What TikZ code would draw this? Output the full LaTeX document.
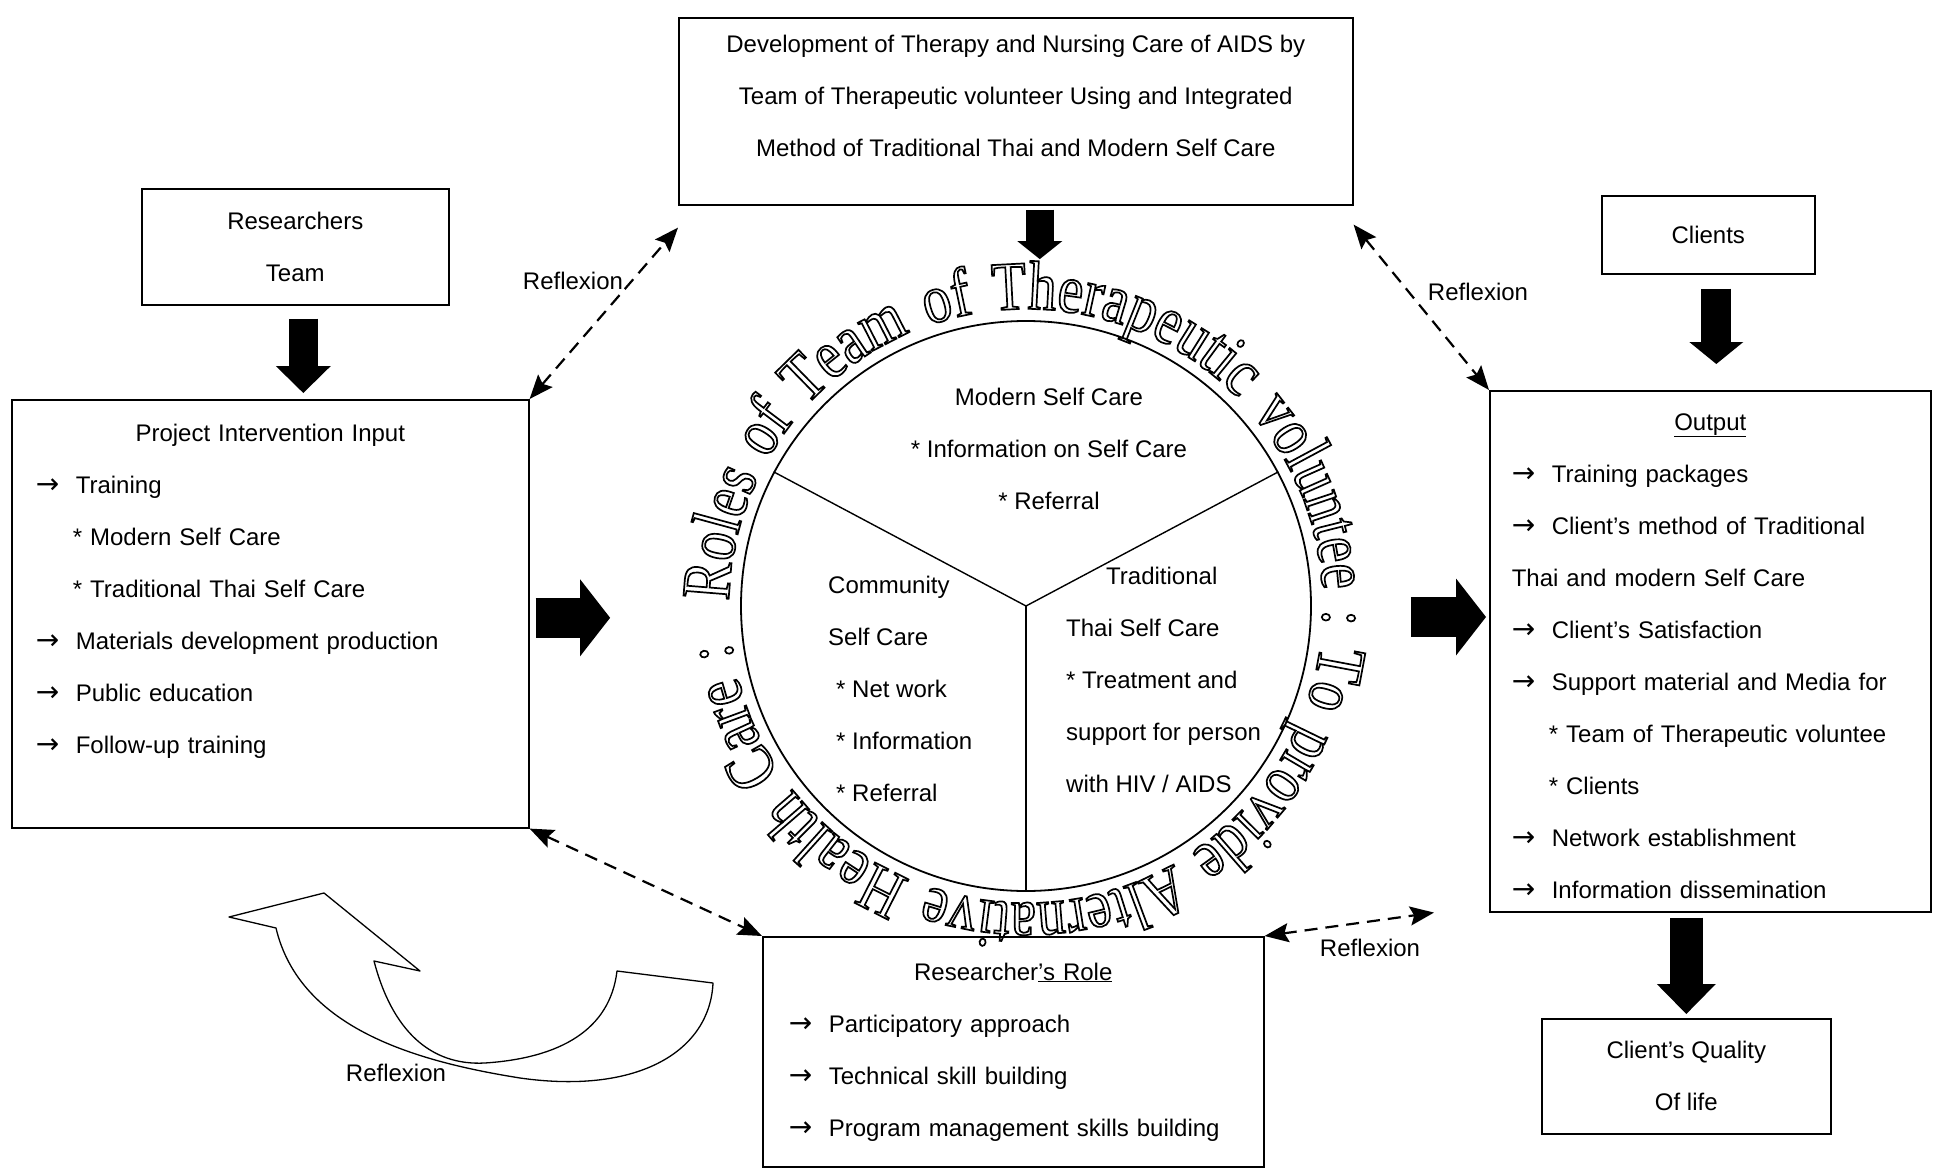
\documentclass[tikz,border=0pt]{standalone}
\usepackage{fontspec}
\setmainfont{Liberation Sans}
\newfontfamily\wordartfont[FakeStretch=0.82]{Liberation Serif}
\newfontfamily\symbfont{DejaVu Sans}
\usetikzlibrary{positioning,arrows.meta,decorations.text}

\newcommand{\itemarrow}{\makebox[40pt][l]{\symbfont\fontsize{28}{28}\selectfont →}}
\newcommand{\subbullet}{\hspace*{37pt}}
\makeatletter
\newcommand{\outlineon}{\pgfsys@invoke{q 1 Tr 1.7 w}}
\newcommand{\outlineoff}{\pgfsys@invoke{Q}}
\makeatother

\begin{document}
\begin{tikzpicture}[
    x=1pt, y=-1pt,
    txt/.style = {font=\fontsize{24}{52}\selectfont, inner sep=0pt},
    box/.style = {draw, line width=1.6pt, txt, align=center},
    listbox/.style = {box, align=left, inner xsep=#1, inner ysep=0pt},
    reflex/.style = {line width=2.2pt, dash pattern=on 13pt off 8pt,
        {Stealth[length=24pt,width=19pt,inset=4pt]}-{Stealth[length=24pt,width=19pt,inset=4pt]}},
    fat/.style n args = {3}{line width=#1, -{Triangle[width=#2,length=#3,line width=0pt]}}
]
    \useasboundingbox (0,0) rectangle (1939,1169);

    % Définition des boîtes (Boxes)
    \node[box, minimum width=674pt, minimum height=187pt, text depth=31pt, anchor=north west] (topbox) at (678,17)
        {Development of Therapy and Nursing Care of AIDS by\\Team of Therapeutic volunteer Using and Integrated\\Method of Traditional Thai and Modern Self Care};
    \node[box, minimum width=307pt, minimum height=116pt, anchor=north west] (res) at (141,188) {Researchers\\Team};
    \node[listbox=24pt, text width=469pt, minimum height=428pt, text depth=361pt, anchor=north west] (input) at (11,399) {%
        \makebox[\hsize]{Project Intervention Input}\\
        \itemarrow Training\\
        \subbullet * Modern Self Care\\
        \subbullet * Traditional Thai Self Care\\
        \itemarrow Materials development production\\
        \itemarrow Public education\\
        \itemarrow Follow-up training};
    \node[box, minimum width=213pt, minimum height=78pt, anchor=north west] (clients) at (1601,195) {Clients};
    \node[listbox=22pt, text width=397pt, minimum height=521pt, text depth=459pt, anchor=north west] (output) at (1489,390) {%
        \makebox[\hsize]{\underline{Output}}\\
        \itemarrow Training packages\\
        \itemarrow Client's method of Traditional\\
        Thai and modern Self Care\\
        \itemarrow Client's Satisfaction\\
        \itemarrow Support material and Media for\\
        \subbullet * Team of Therapeutic voluntee\\
        \subbullet * Clients\\
        \itemarrow Network establishment\\
        \itemarrow Information dissemination};
    \node[box, minimum width=289pt, minimum height=115pt, anchor=north west] (quality) at (1541,1018) {Client's Quality\\Of life};
    \node[listbox=26pt, text width=449pt, minimum height=230pt, anchor=north west] (role) at (762,936) {%
        \makebox[\hsize]{Researcher\underline{'s Role}}\\
        \itemarrow Participatory approach\\
        \itemarrow Technical skill building\\
        \itemarrow Program management skills building};

    % Le cercle (Circle)
    \node[draw, circle, line width=1.8pt, minimum size=570pt, inner sep=0pt] (circ) at (1026,606) {};
    \draw[line width=1.4pt] (circ.center) -- (circ.152);
    \draw[line width=1.4pt] (circ.center) -- (circ.28);
    \draw[line width=1.4pt] (circ.center) -- (circ.270);
    \node[txt, align=center] (modern) at (1049,449) {Modern Self Care\\* Information on Self Care\\* Referral};
    \node[txt, align=left, anchor=west] (community) at (828,689)
        {Community\\Self Care\\\hspace*{8pt}* Net work\\\hspace*{8pt}* Information\\\hspace*{8pt}* Referral};
    \node[txt, align=left, anchor=west] (thai) at (1066,680)
        {\hspace*{40pt}Traditional\\Thai Self Care\\* Treatment and\\support for person\\with HIV / AIDS};

    % Texte autour du cercle (WordArt)
    \outlineon
    \path[decorate, decoration={text along path, text align={fit to path stretching spaces},
        text={|\wordartfont\fontsize{69}{69}\selectfont|Roles of Team of Therapeutic voluntee : To provide Alternative Health Care :}}]
        (circ.center) ++(-179:297) arc[start angle=-179, end angle=173, radius=297];
    \outlineoff

    % Grosses flèches (Block arrows)
    \coordinate (resfoot) at ([xshift=8pt]res.south);
    \coordinate (topfoot) at ([xshift=24pt]topbox.south);
    \coordinate (inright) at ([yshift=-4pt]input.east);
    \coordinate (circright) at ([yshift=-11pt]circ.east);
    \coordinate (clfoot) at ([xshift=8pt]clients.south);
    \draw[fat={29pt}{55pt}{27pt}, shorten <=13pt, shorten >=6pt] (resfoot) -- (resfoot |- input.north);
    \draw[fat={28pt}{45pt}{18pt}, shorten <=4pt, shorten >=61pt] (topfoot) -- (topfoot |- circ.north);
    \draw[fat={40pt}{77pt}{30pt}, shorten <=6pt, shorten >=130pt] (inright) -- (inright -| circ.west);
    \draw[fat={40pt}{77pt}{30pt}, shorten <=99pt, shorten >=3pt] (circright) -- (circright -| output.west);
    \draw[fat={30pt}{54pt}{22pt}, shorten <=14pt, shorten >=26pt] (clfoot) -- (clfoot |- output.north);
    \draw[fat={33pt}{59pt}{30pt}, shorten <=5pt, shorten >=4pt] (quality.north |- output.south) -- (quality.north);

    % Flèches de réflexion (Reflexion)
    \node[txt] (reflexA) at (573,281) {Reflexion};
    \node[txt] (reflexB) at (1478,292) {Reflexion};
    \node[txt] (reflexC) at (1370,948) {Reflexion};
    \node[txt] (reflexD) at (396,1073) {Reflexion};
    \draw[reflex] (input.north east) -- ([yshift=-22pt]topbox.south west);
    \draw[reflex] ([yshift=-19pt]topbox.south east) -- (output.north west);
    \draw[reflex] (input.south east) -- (role.north west);
    \draw[reflex] (role.north east) -- ([xshift=-55pt]output.south west);

    % Flèche courbe (Curved arrow)
    \draw[line width=1.3pt, line join=round, fill=white]
        (374,961) -- (420,971) -- (324,893) -- (229,917) -- (276,928)
        .. controls (300,1030) and (420,1062) .. (520,1078)
        .. controls (640,1095) and (710,1050) .. (713,983)
        -- (617,971)
        .. controls (610,1030) and (560,1058) .. (485,1063)
        .. controls (430,1066) and (392,1030) .. (374,961) -- cycle;

\end{tikzpicture}
\end{document}
